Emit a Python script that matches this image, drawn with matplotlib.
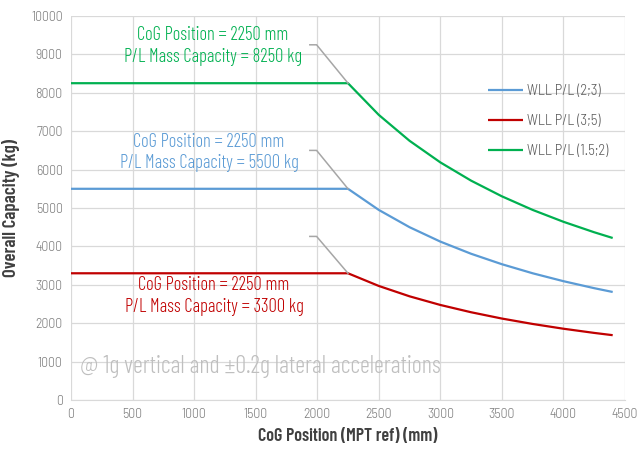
import matplotlib
matplotlib.use("Agg")
import matplotlib.pyplot as plt
from matplotlib import font_manager as fm

# CoG position (mm)
cog_mm = [0, 2250, 2500, 2750, 3000, 3250, 3500, 3750, 4000, 4250, 4400]
wll_2_3 = [5500, 5500, 4950, 4500, 4125, 3808, 3536, 3300, 3094, 2912, 2813]
wll_3_5 = [3300, 3300, 2970, 2700, 2475, 2285, 2121, 1980, 1856, 1747, 1688]
wll_15_2 = [8250, 8250, 7425, 6750, 6188, 5712, 5304, 4950, 4641, 4368, 4219]

series_labels = ["WLL P/L (2;3)", "WLL P/L (3;5)", "WLL P/L (1.5;2)"]
series_colors = ["#5B9BD5", "#C00000", "#00B050"]
note_colors = ["#5B9BD5", "#C00000", "#00B050"]
cap_values = [5500, 3300, 8250]
cog_knee = 2250
x_ticks = list(range(0, 4501, 500))
y_ticks = list(range(0, 10001, 1000))


def pick(cands):
    for c in cands:
        try:
            fm.findfont(fm.FontProperties(family=c), fallback_to_default=False)
            return c
        except Exception:
            pass
    return "DejaVu Sans"


main_font = pick(["Barlow Semi Condensed", "Roboto Condensed",
                  "Encode Sans Semi Condensed", "Liberation Sans Narrow", "DejaVu Sans"])
cond_font = pick(["Barlow Condensed", "Roboto Condensed", "Liberation Sans Narrow", main_font])
plt.rcParams["font.family"] = [main_font, "DejaVu Sans"]
cond = [cond_font, "DejaVu Sans"]

fig = plt.figure(figsize=(6.4, 4.55), dpi=100)
ax = fig.add_axes([71/640, 55/455, 554/640, 384/455])

for ys, lab, c in zip([wll_2_3, wll_3_5, wll_15_2], series_labels, series_colors):
    ax.plot(cog_mm, ys, color=c, lw=1.6, label=lab, solid_capstyle="butt")

ax.set_xlim(0, 4500)
ax.set_ylim(0, 10000)
ax.set_xticks(x_ticks)
ax.set_yticks(y_ticks)
ax.grid(True, color="#D9D9D9", lw=0.9)
ax.set_axisbelow(True)
for s in ["top", "right", "left"]:
    ax.spines[s].set_visible(False)
ax.spines["bottom"].set_color("#D9D9D9")
ax.tick_params(length=0, colors="#7F7F7F", labelsize=10, pad=6)
for t in ax.get_xticklabels() + ax.get_yticklabels():
    t.set_fontweight(300)

ax.set_xlabel("CoG Position (MPT ref) (mm)", fontsize=13, fontweight=600, family=cond,
              color="#404040", labelpad=5)
ax.set_ylabel("Overall Capacity (kg)", fontsize=13.5, fontweight=600, family=cond,
              color="#404040", labelpad=8)

# annotations
note_pos = [(1121, 6445), (1161, 2720), (1153, 9219)]
for cap, col, (nx, ny) in zip(cap_values, note_colors, note_pos):
    ax.text(nx, ny, f"CoG Position = {cog_knee} mm\nP/L Mass Capacity = {cap} kg",
            color=col, fontsize=13.4, ha="center", va="center", fontweight=300,
            family=cond, linespacing=1.28)
    lead_y = cap + 1000 if cap != 3300 else cap + 960
    ax.plot([1940, 1995, cog_knee], [lead_y, lead_y, cap], color="#A6A6A6", lw=1.1)

ax.text(75, 860, "@ 1g vertical and \u00b10.2g lateral accelerations", color="#BFBFBF",
        fontsize=17.5, ha="left", va="center", fontweight=300, family=cond)

leg = ax.legend(loc="upper left", bbox_to_anchor=(0.752, 0.822), frameon=False,
                prop={"size": 10.5, "weight": 300}, handlelength=2.4,
                handletextpad=0.3, labelspacing=1.1, borderpad=0, borderaxespad=0)
for t in leg.get_texts():
    t.set_color("#595959")

fig.savefig("out.png", dpi=100)
